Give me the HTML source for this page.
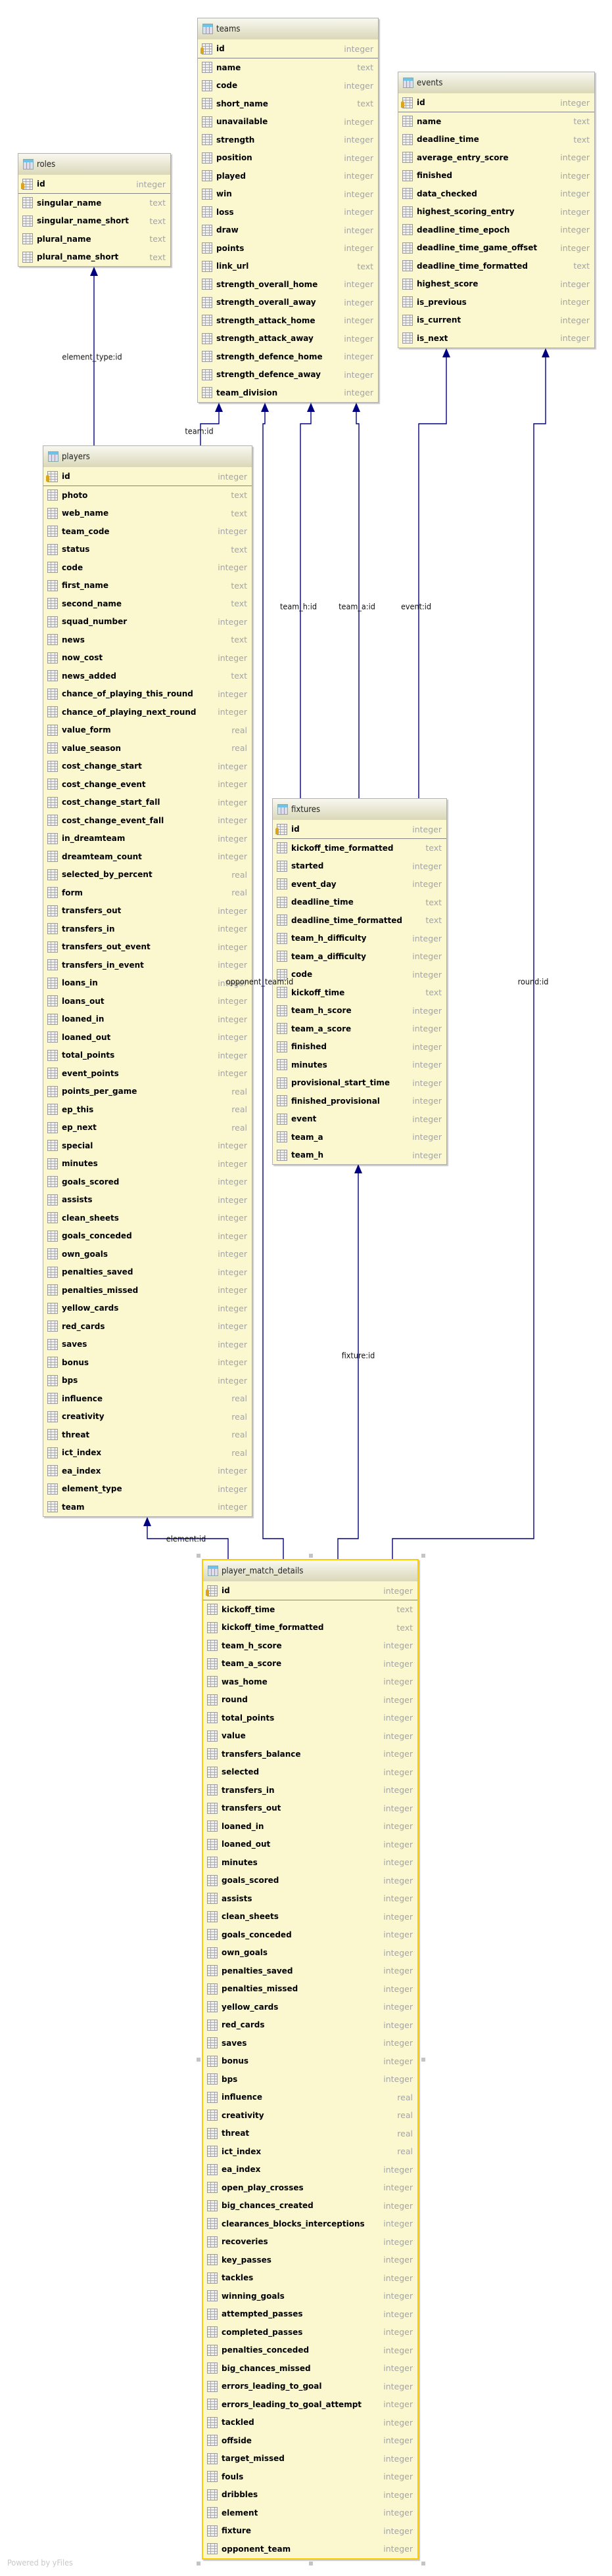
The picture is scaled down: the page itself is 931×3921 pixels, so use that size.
<!DOCTYPE html>
<html><head><meta charset="utf-8"><style>
*{margin:0;padding:0;box-sizing:border-box}
body{width:931px;height:3921px;background:#fff;position:relative;overflow:hidden;font-family:"DejaVu Sans","Liberation Sans",sans-serif}
.t{position:absolute;background:#fbf8d0;border:1px solid #b0b0b0;box-shadow:2px 2px 1px rgba(0,0,0,.22)}
.sel{border:2px solid #ffcc00}
.h{height:32px;background:linear-gradient(#f8f8f0,#dad8b8);display:flex;align-items:center;padding-left:7px;font-size:13px;color:#222;font-family:"DejaVu Sans Condensed","DejaVu Sans",sans-serif}
.h i{width:16px;height:16px;margin-right:5px;border:1px solid #8aa;background:linear-gradient(#6cc4ec 0 4px,transparent 4px),repeating-linear-gradient(90deg,#dde 0 4px,#99a 4px 5px),#eee}
p{height:27.5px;display:flex;align-items:center;padding-left:6px;padding-right:7px;font-size:12px}
p.k{height:29px;border-bottom:1px solid #858585}
p i{width:16px;height:17px;flex:none;margin-right:6px;border:1px solid #999;background:repeating-linear-gradient(#f0f0f0 0 3px,#aaa 3px 4px),#eee;position:relative}
p i:after{content:"";position:absolute;left:4px;top:0;bottom:0;width:5px;border-left:1px solid #aaa;border-right:1px solid #aaa}
p.k i:before{content:"";position:absolute;left:-3px;top:5px;width:5px;height:10px;background:#d9a520;border-radius:3px 3px 1px 1px;z-index:1}
p b{flex:1;font-weight:bold;color:#000;white-space:nowrap}
p em{font-style:normal;color:#a4a4a4;font-size:12.5px}
.lb{position:absolute;z-index:10;font-family:"DejaVu Sans Condensed","Liberation Sans",sans-serif;font-size:12.5px;color:#111;transform:translate(-50%,-50%);white-space:nowrap}
.hd{position:absolute;width:6px;height:6px;background:#c4c4c4}
</style></head><body>
<svg width="931" height="3921" style="position:absolute;left:0;top:0" fill="none" stroke="#000080" stroke-width="1.4">
<path d="M143 678V414"/>
<path d="M305 678V645H333V620"/>
<path d="M431 2373V2342H400V645H403V620"/>
<path d="M457 1215V645H473V620"/>
<path d="M546 1215V645H542V620"/>
<path d="M637 1215V645H679V538"/>
<path d="M597 2373V2342H812V645H830V538"/>
<path d="M514 2373V2342H545V1780"/>
<path d="M347 2373V2342H224V2317"/>
<g fill="#000080" stroke="none">
<path d="M143 406l-6 14h12z"/><path d="M333 613l-6 14h12z"/><path d="M403 613l-6 14h12z"/><path d="M473 613l-6 14h12z"/><path d="M542 613l-6 14h12z"/><path d="M679 530l-6 14h12z"/><path d="M830 530l-6 14h12z"/><path d="M545 1772l-6 14h12z"/><path d="M224 2309l-6 14h12z"/>
</g></svg>
<div class="lb" style="left:140px;top:543px">element_type:id</div>
<div class="lb" style="left:303px;top:656px">team:id</div>
<div class="lb" style="left:454px;top:923px">team_h:id</div>
<div class="lb" style="left:543px;top:923px">team_a:id</div>
<div class="lb" style="left:633px;top:923px">event:id</div>
<div class="lb" style="left:395px;top:1494px">opponent_team:id</div>
<div class="lb" style="left:811px;top:1494px">round:id</div>
<div class="lb" style="left:545px;top:2063px">fixture:id</div>
<div class="lb" style="left:283px;top:2342px">element:id</div>

<div class="t" style="left:27px;top:233px;width:233px">
<div class="h"><i></i>roles</div>
<p class="k"><i></i><b>id</b><em>integer</em></p>
<p><i></i><b>singular_name</b><em>text</em></p>
<p><i></i><b>singular_name_short</b><em>text</em></p>
<p><i></i><b>plural_name</b><em>text</em></p>
<p><i></i><b>plural_name_short</b><em>text</em></p>
</div>

<div class="t" style="left:300px;top:27px;width:276px">
<div class="h"><i></i>teams</div>
<p class="k"><i></i><b>id</b><em>integer</em></p>
<p><i></i><b>name</b><em>text</em></p>
<p><i></i><b>code</b><em>integer</em></p>
<p><i></i><b>short_name</b><em>text</em></p>
<p><i></i><b>unavailable</b><em>integer</em></p>
<p><i></i><b>strength</b><em>integer</em></p>
<p><i></i><b>position</b><em>integer</em></p>
<p><i></i><b>played</b><em>integer</em></p>
<p><i></i><b>win</b><em>integer</em></p>
<p><i></i><b>loss</b><em>integer</em></p>
<p><i></i><b>draw</b><em>integer</em></p>
<p><i></i><b>points</b><em>integer</em></p>
<p><i></i><b>link_url</b><em>text</em></p>
<p><i></i><b>strength_overall_home</b><em>integer</em></p>
<p><i></i><b>strength_overall_away</b><em>integer</em></p>
<p><i></i><b>strength_attack_home</b><em>integer</em></p>
<p><i></i><b>strength_attack_away</b><em>integer</em></p>
<p><i></i><b>strength_defence_home</b><em>integer</em></p>
<p><i></i><b>strength_defence_away</b><em>integer</em></p>
<p><i></i><b>team_division</b><em>integer</em></p>
</div>

<div class="t" style="left:605px;top:109px;width:300px">
<div class="h"><i></i>events</div>
<p class="k"><i></i><b>id</b><em>integer</em></p>
<p><i></i><b>name</b><em>text</em></p>
<p><i></i><b>deadline_time</b><em>text</em></p>
<p><i></i><b>average_entry_score</b><em>integer</em></p>
<p><i></i><b>finished</b><em>integer</em></p>
<p><i></i><b>data_checked</b><em>integer</em></p>
<p><i></i><b>highest_scoring_entry</b><em>integer</em></p>
<p><i></i><b>deadline_time_epoch</b><em>integer</em></p>
<p><i></i><b>deadline_time_game_offset</b><em>integer</em></p>
<p><i></i><b>deadline_time_formatted</b><em>text</em></p>
<p><i></i><b>highest_score</b><em>integer</em></p>
<p><i></i><b>is_previous</b><em>integer</em></p>
<p><i></i><b>is_current</b><em>integer</em></p>
<p><i></i><b>is_next</b><em>integer</em></p>
</div>

<div class="t" style="left:65px;top:678px;width:319px">
<div class="h"><i></i>players</div>
<p class="k"><i></i><b>id</b><em>integer</em></p>
<p><i></i><b>photo</b><em>text</em></p>
<p><i></i><b>web_name</b><em>text</em></p>
<p><i></i><b>team_code</b><em>integer</em></p>
<p><i></i><b>status</b><em>text</em></p>
<p><i></i><b>code</b><em>integer</em></p>
<p><i></i><b>first_name</b><em>text</em></p>
<p><i></i><b>second_name</b><em>text</em></p>
<p><i></i><b>squad_number</b><em>integer</em></p>
<p><i></i><b>news</b><em>text</em></p>
<p><i></i><b>now_cost</b><em>integer</em></p>
<p><i></i><b>news_added</b><em>text</em></p>
<p><i></i><b>chance_of_playing_this_round</b><em>integer</em></p>
<p><i></i><b>chance_of_playing_next_round</b><em>integer</em></p>
<p><i></i><b>value_form</b><em>real</em></p>
<p><i></i><b>value_season</b><em>real</em></p>
<p><i></i><b>cost_change_start</b><em>integer</em></p>
<p><i></i><b>cost_change_event</b><em>integer</em></p>
<p><i></i><b>cost_change_start_fall</b><em>integer</em></p>
<p><i></i><b>cost_change_event_fall</b><em>integer</em></p>
<p><i></i><b>in_dreamteam</b><em>integer</em></p>
<p><i></i><b>dreamteam_count</b><em>integer</em></p>
<p><i></i><b>selected_by_percent</b><em>real</em></p>
<p><i></i><b>form</b><em>real</em></p>
<p><i></i><b>transfers_out</b><em>integer</em></p>
<p><i></i><b>transfers_in</b><em>integer</em></p>
<p><i></i><b>transfers_out_event</b><em>integer</em></p>
<p><i></i><b>transfers_in_event</b><em>integer</em></p>
<p><i></i><b>loans_in</b><em>integer</em></p>
<p><i></i><b>loans_out</b><em>integer</em></p>
<p><i></i><b>loaned_in</b><em>integer</em></p>
<p><i></i><b>loaned_out</b><em>integer</em></p>
<p><i></i><b>total_points</b><em>integer</em></p>
<p><i></i><b>event_points</b><em>integer</em></p>
<p><i></i><b>points_per_game</b><em>real</em></p>
<p><i></i><b>ep_this</b><em>real</em></p>
<p><i></i><b>ep_next</b><em>real</em></p>
<p><i></i><b>special</b><em>integer</em></p>
<p><i></i><b>minutes</b><em>integer</em></p>
<p><i></i><b>goals_scored</b><em>integer</em></p>
<p><i></i><b>assists</b><em>integer</em></p>
<p><i></i><b>clean_sheets</b><em>integer</em></p>
<p><i></i><b>goals_conceded</b><em>integer</em></p>
<p><i></i><b>own_goals</b><em>integer</em></p>
<p><i></i><b>penalties_saved</b><em>integer</em></p>
<p><i></i><b>penalties_missed</b><em>integer</em></p>
<p><i></i><b>yellow_cards</b><em>integer</em></p>
<p><i></i><b>red_cards</b><em>integer</em></p>
<p><i></i><b>saves</b><em>integer</em></p>
<p><i></i><b>bonus</b><em>integer</em></p>
<p><i></i><b>bps</b><em>integer</em></p>
<p><i></i><b>influence</b><em>real</em></p>
<p><i></i><b>creativity</b><em>real</em></p>
<p><i></i><b>threat</b><em>real</em></p>
<p><i></i><b>ict_index</b><em>real</em></p>
<p><i></i><b>ea_index</b><em>integer</em></p>
<p><i></i><b>element_type</b><em>integer</em></p>
<p><i></i><b>team</b><em>integer</em></p>
</div>

<div class="t" style="left:414px;top:1215px;width:266px">
<div class="h"><i></i>fixtures</div>
<p class="k"><i></i><b>id</b><em>integer</em></p>
<p><i></i><b>kickoff_time_formatted</b><em>text</em></p>
<p><i></i><b>started</b><em>integer</em></p>
<p><i></i><b>event_day</b><em>integer</em></p>
<p><i></i><b>deadline_time</b><em>text</em></p>
<p><i></i><b>deadline_time_formatted</b><em>text</em></p>
<p><i></i><b>team_h_difficulty</b><em>integer</em></p>
<p><i></i><b>team_a_difficulty</b><em>integer</em></p>
<p><i></i><b>code</b><em>integer</em></p>
<p><i></i><b>kickoff_time</b><em>text</em></p>
<p><i></i><b>team_h_score</b><em>integer</em></p>
<p><i></i><b>team_a_score</b><em>integer</em></p>
<p><i></i><b>finished</b><em>integer</em></p>
<p><i></i><b>minutes</b><em>integer</em></p>
<p><i></i><b>provisional_start_time</b><em>integer</em></p>
<p><i></i><b>finished_provisional</b><em>integer</em></p>
<p><i></i><b>event</b><em>integer</em></p>
<p><i></i><b>team_a</b><em>integer</em></p>
<p><i></i><b>team_h</b><em>integer</em></p>
</div>

<div class="t sel" style="left:307px;top:2373px;width:330px">
<div class="h"><i></i>player_match_details</div>
<p class="k"><i></i><b>id</b><em>integer</em></p>
<p><i></i><b>kickoff_time</b><em>text</em></p>
<p><i></i><b>kickoff_time_formatted</b><em>text</em></p>
<p><i></i><b>team_h_score</b><em>integer</em></p>
<p><i></i><b>team_a_score</b><em>integer</em></p>
<p><i></i><b>was_home</b><em>integer</em></p>
<p><i></i><b>round</b><em>integer</em></p>
<p><i></i><b>total_points</b><em>integer</em></p>
<p><i></i><b>value</b><em>integer</em></p>
<p><i></i><b>transfers_balance</b><em>integer</em></p>
<p><i></i><b>selected</b><em>integer</em></p>
<p><i></i><b>transfers_in</b><em>integer</em></p>
<p><i></i><b>transfers_out</b><em>integer</em></p>
<p><i></i><b>loaned_in</b><em>integer</em></p>
<p><i></i><b>loaned_out</b><em>integer</em></p>
<p><i></i><b>minutes</b><em>integer</em></p>
<p><i></i><b>goals_scored</b><em>integer</em></p>
<p><i></i><b>assists</b><em>integer</em></p>
<p><i></i><b>clean_sheets</b><em>integer</em></p>
<p><i></i><b>goals_conceded</b><em>integer</em></p>
<p><i></i><b>own_goals</b><em>integer</em></p>
<p><i></i><b>penalties_saved</b><em>integer</em></p>
<p><i></i><b>penalties_missed</b><em>integer</em></p>
<p><i></i><b>yellow_cards</b><em>integer</em></p>
<p><i></i><b>red_cards</b><em>integer</em></p>
<p><i></i><b>saves</b><em>integer</em></p>
<p><i></i><b>bonus</b><em>integer</em></p>
<p><i></i><b>bps</b><em>integer</em></p>
<p><i></i><b>influence</b><em>real</em></p>
<p><i></i><b>creativity</b><em>real</em></p>
<p><i></i><b>threat</b><em>real</em></p>
<p><i></i><b>ict_index</b><em>real</em></p>
<p><i></i><b>ea_index</b><em>integer</em></p>
<p><i></i><b>open_play_crosses</b><em>integer</em></p>
<p><i></i><b>big_chances_created</b><em>integer</em></p>
<p><i></i><b>clearances_blocks_interceptions</b><em>integer</em></p>
<p><i></i><b>recoveries</b><em>integer</em></p>
<p><i></i><b>key_passes</b><em>integer</em></p>
<p><i></i><b>tackles</b><em>integer</em></p>
<p><i></i><b>winning_goals</b><em>integer</em></p>
<p><i></i><b>attempted_passes</b><em>integer</em></p>
<p><i></i><b>completed_passes</b><em>integer</em></p>
<p><i></i><b>penalties_conceded</b><em>integer</em></p>
<p><i></i><b>big_chances_missed</b><em>integer</em></p>
<p><i></i><b>errors_leading_to_goal</b><em>integer</em></p>
<p><i></i><b>errors_leading_to_goal_attempt</b><em>integer</em></p>
<p><i></i><b>tackled</b><em>integer</em></p>
<p><i></i><b>offside</b><em>integer</em></p>
<p><i></i><b>target_missed</b><em>integer</em></p>
<p><i></i><b>fouls</b><em>integer</em></p>
<p><i></i><b>dribbles</b><em>integer</em></p>
<p><i></i><b>element</b><em>integer</em></p>
<p><i></i><b>fixture</b><em>integer</em></p>
<p><i></i><b>opponent_team</b><em>integer</em></p>
</div>

<div class="hd" style="left:299px;top:2365px"></div>
<div class="hd" style="left:470px;top:2365px"></div>
<div class="hd" style="left:641px;top:2365px"></div>
<div class="hd" style="left:299px;top:3132px"></div>
<div class="hd" style="left:641px;top:3132px"></div>
<div class="hd" style="left:299px;top:3899px"></div>
<div class="hd" style="left:470px;top:3899px"></div>
<div class="hd" style="left:641px;top:3899px"></div>

<div style="position:absolute;left:11px;top:3893px;font-family:'DejaVu Sans Condensed','Liberation Sans',sans-serif;font-size:12.5px;color:#c8c8c8">Powered by yFiles</div>
</body></html>
